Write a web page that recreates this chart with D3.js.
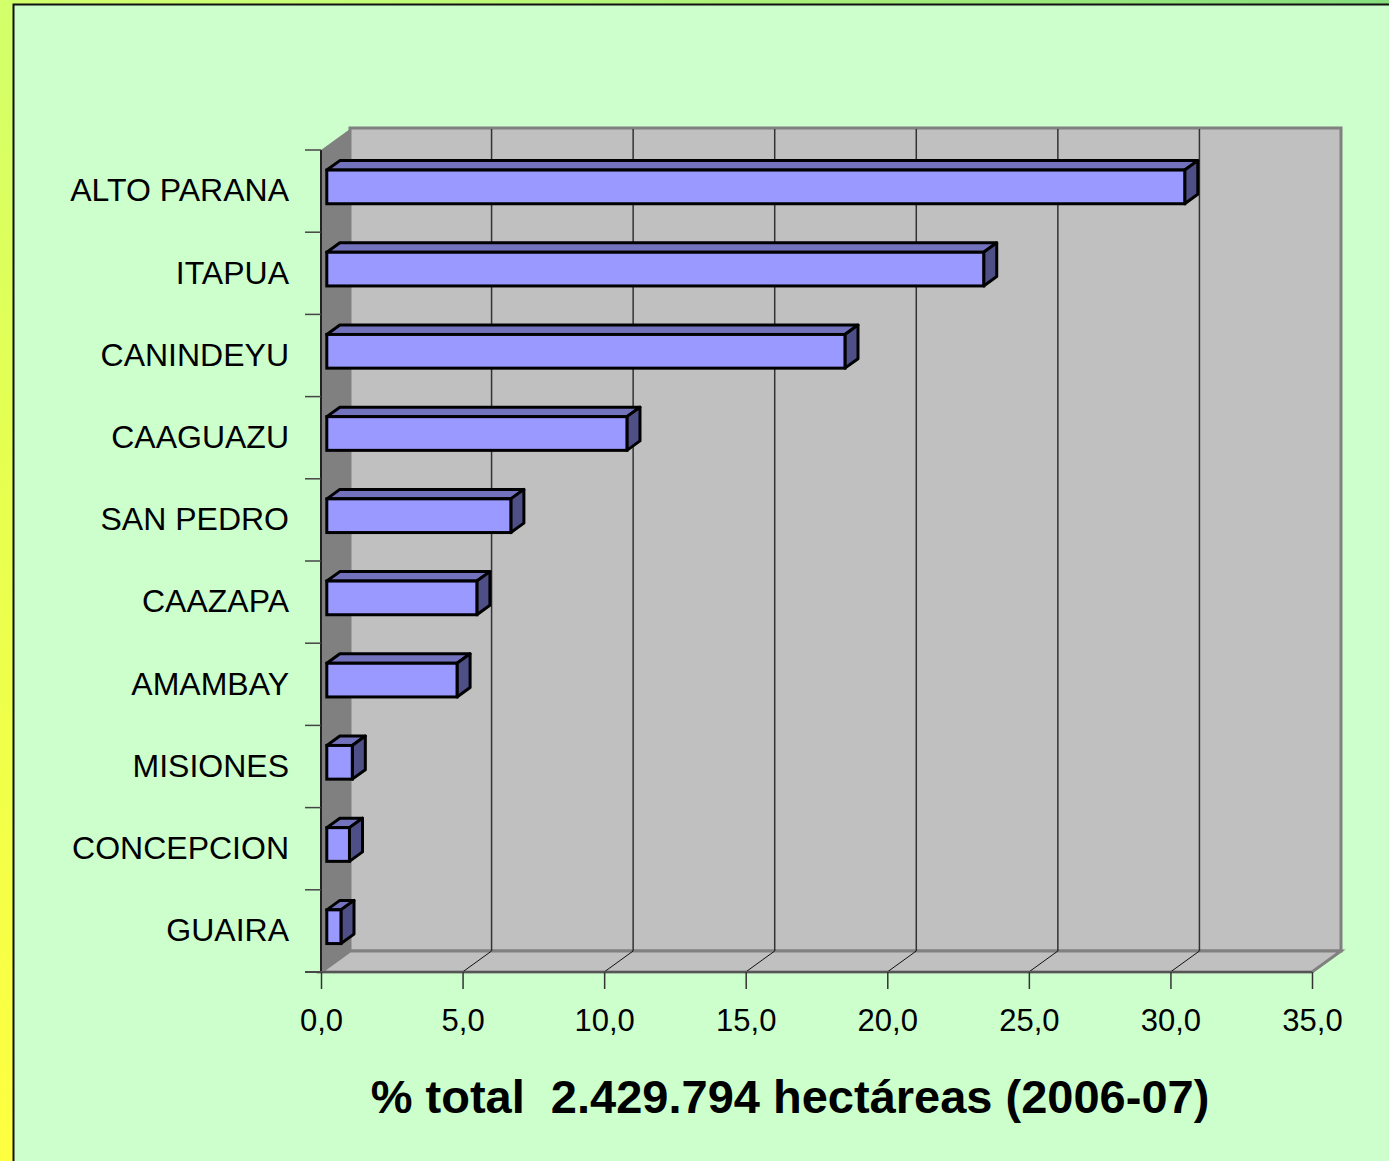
<!DOCTYPE html>
<html><head><meta charset="utf-8">
<script src="https://cdn.jsdelivr.net/npm/d3@7/dist/d3.min.js"></script>
<style>html,body{margin:0;padding:0;overflow:hidden;background:#ccffcc}</style>
</head><body>
<script>
const categories = ["ALTO PARANA","ITAPUA","CANINDEYU","CAAGUAZU","SAN PEDRO","CAAZAPA","AMAMBAY","MISIONES","CONCEPCION","GUAIRA"];
const values = [30.3, 23.2, 18.3, 10.6, 6.5, 5.3, 4.6, 0.9, 0.8, 0.5];
const xTicks = [0, 5, 10, 15, 20, 25, 30, 35];
const title = "% total  2.429.794 hectáreas (2006-07)";

const W = 1389, H = 1161;
const svg = d3.select("body").append("svg").attr("width", W).attr("height", H);
const defs = svg.append("defs");
const g = defs.append("linearGradient").attr("id","bg").attr("x1","1").attr("y1","0").attr("x2","0").attr("y2","1");
g.append("stop").attr("offset","0").attr("stop-color","#86de7e");
g.append("stop").attr("offset","0.4").attr("stop-color","#c8ff78");
g.append("stop").attr("offset","0.7").attr("stop-color","#e6ff50");
g.append("stop").attr("offset","1").attr("stop-color","#ffff40");
svg.append("rect").attr("width",W).attr("height",H).attr("fill","url(#bg)");
svg.append("rect").attr("x",13.5).attr("y",4.5).attr("width",W).attr("height",H).attr("fill","#ccffcc").attr("stroke","#111").attr("stroke-width",2);

// geometry
const x = d3.scaleLinear().domain([0,35]).range([321,1312]);
const y = d3.scaleBand().domain(categories).range([150,972]).paddingInner(0.59).paddingOuter(0.295);
const DX = 29, DY = -21;
const yTop = 150, yBot = 972;
const bx = v => x(v) + DX;

// back wall
svg.append("rect").attr("x",bx(0)).attr("y",yTop+DY-1).attr("width",bx(35)-bx(0)).attr("height",(yBot+DY)-(yTop+DY-1))
  .attr("fill","#c0c0c0").attr("stroke","#808080").attr("stroke-width",3);
// floor
svg.append("polygon").attr("points",[[x(0),yBot],[x(35),yBot],[bx(35),yBot+DY],[bx(0),yBot+DY]].join(" "))
  .attr("fill","#c0c0c0").attr("stroke","#808080").attr("stroke-width",3).attr("stroke-linejoin","miter");
// side wall
svg.append("polygon").attr("points",[[x(0),yTop],[x(0)+DX,yTop+DY],[x(0)+DX,yBot+DY],[x(0),yBot]].join(" "))
  .attr("fill","#808080");

// gridlines
const grid = xTicks.filter(v => v > 0 && v < 35);
svg.append("g").selectAll("line").data(grid).join("line")
  .attr("x1",d=>bx(d)).attr("x2",d=>bx(d)).attr("y1",yTop+DY).attr("y2",yBot+DY)
  .attr("stroke","#333").attr("stroke-width",1.5);
svg.append("g").selectAll("line").data(grid).join("line")
  .attr("x1",d=>bx(d)).attr("x2",d=>x(d)).attr("y1",yBot+DY).attr("y2",yBot)
  .attr("stroke","#111").attr("stroke-width",1);

// axes lines
svg.append("line").attr("x1",x(0)).attr("x2",x(0)).attr("y1",yTop).attr("y2",yBot).attr("stroke","#222").attr("stroke-width",2);
svg.append("line").attr("x1",305).attr("x2",x(35)).attr("y1",yBot).attr("y2",yBot).attr("stroke","#555").attr("stroke-width",2);
// y boundary ticks
const bounds = d3.range(categories.length+1).map(i => yTop + i*y.step());
svg.append("g").selectAll("line").data(bounds).join("line")
  .attr("x1",305).attr("x2",x(0)).attr("y1",d=>d).attr("y2",d=>d).attr("stroke","#444").attr("stroke-width",1.5);

// bars
const F = 0.2, BD = 0.45;
const bars = svg.append("g").selectAll("g").data(categories.map((c,i)=>({c, v:values[i]}))).join("g");
bars.each(function(d){
  const sel = d3.select(this);
  const x0 = x(0) + F*DX, x1 = x(d.v) + F*DX;
  const y0 = y(d.c) + F*DY, h = y.bandwidth();
  const ox = BD*DX, oy = BD*DY;
  sel.append("polygon").attr("points",[[x0,y0],[x0+ox,y0+oy],[x1+ox,y0+oy],[x1,y0]].join(" "))
    .attr("fill","#7373bd").attr("stroke","#000").attr("stroke-width",3).attr("stroke-linejoin","round");
  sel.append("polygon").attr("points",[[x1,y0],[x1+ox,y0+oy],[x1+ox,y0+oy+h],[x1,y0+h]].join(" "))
    .attr("fill","#4f4f88").attr("stroke","#000").attr("stroke-width",3).attr("stroke-linejoin","round");
  sel.append("rect").attr("x",x0).attr("y",y0).attr("width",x1-x0).attr("height",h)
    .attr("fill","#9999ff").attr("stroke","#000").attr("stroke-width",3);
});

// y labels
const yAxis = svg.append("g").attr("transform",`translate(${x(0)},0)`)
  .call(d3.axisLeft(y).tickSize(0).tickPadding(32));
yAxis.select(".domain").remove();
yAxis.selectAll("text").attr("font-family","'Liberation Sans', Arial, sans-serif").attr("font-size",32).attr("fill","#000");

// x axis
const xAxis = svg.append("g").attr("transform",`translate(0,${yBot})`)
  .call(d3.axisBottom(x).tickValues(xTicks).tickSize(17).tickFormat(d => d3.format(".1f")(d).replace(".",",")));
xAxis.select(".domain").remove();
xAxis.selectAll(".tick line").attr("stroke","#333").attr("stroke-width",1.5);
xAxis.selectAll("text").attr("y",59).attr("dy",0).attr("font-family","'Liberation Sans', Arial, sans-serif").attr("font-size",31).attr("fill","#000");

// title
svg.append("text").attr("x",790).attr("y",1113).attr("text-anchor","middle")
  .attr("font-family","'Liberation Sans', Arial, sans-serif").attr("font-weight","bold").attr("font-size",47)
  .style("white-space","pre").text(title);
</script>
</body></html>
